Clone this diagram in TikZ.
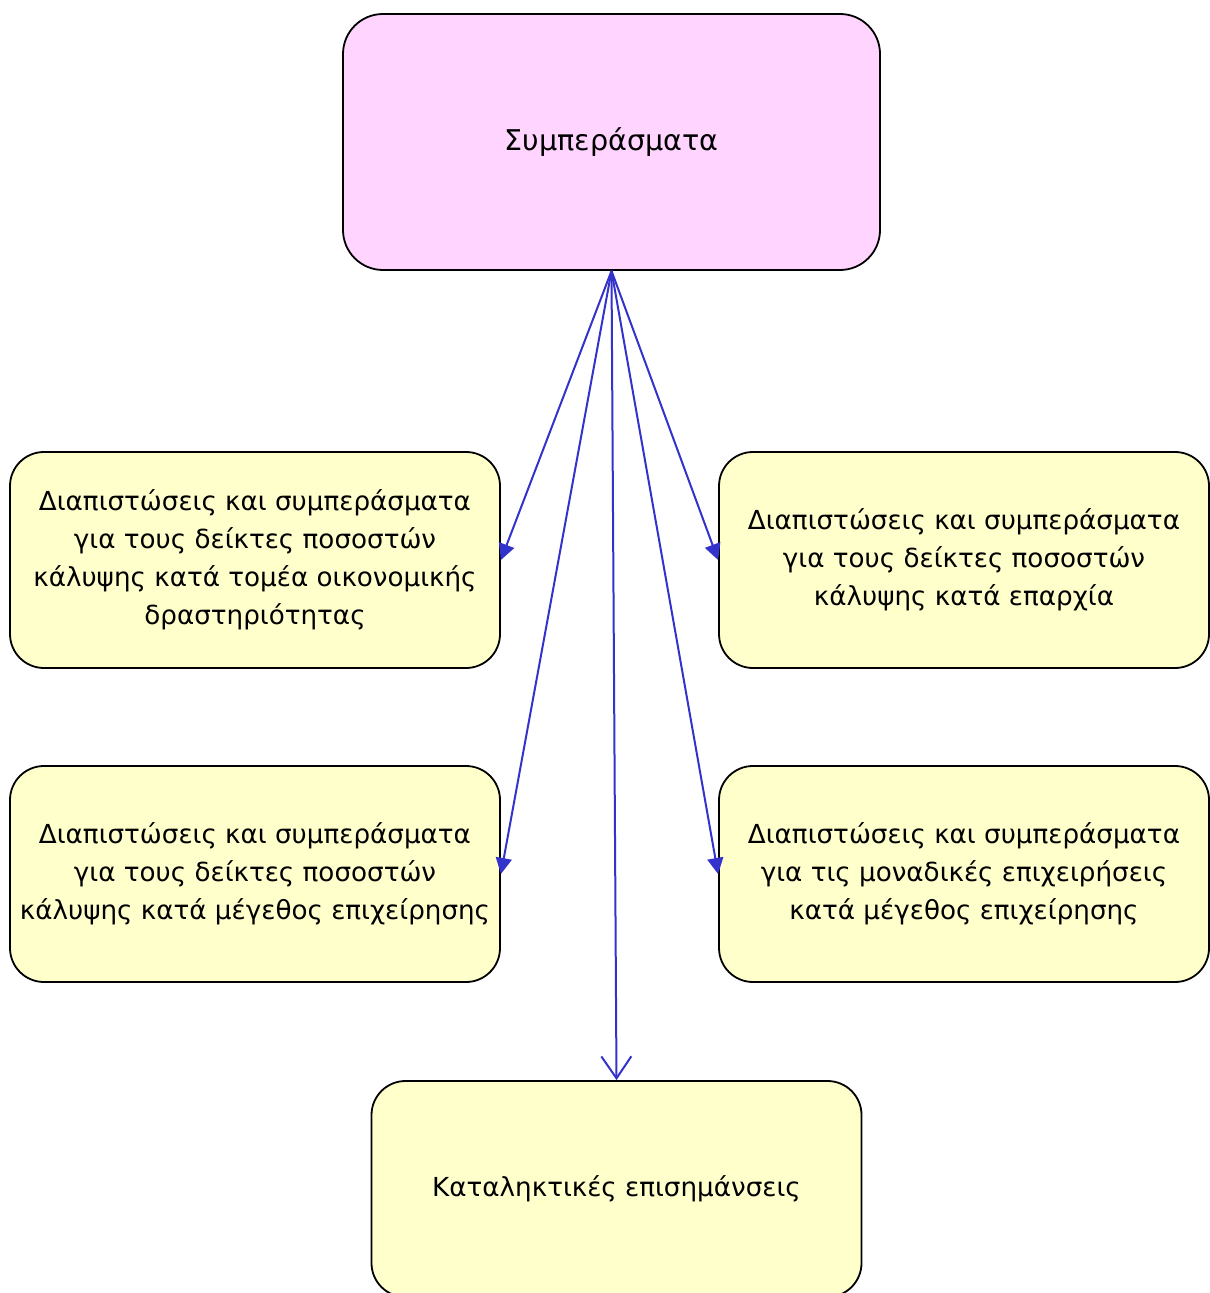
\documentclass[tikz,border=0pt]{standalone}
\usepackage{fontspec}
\setmainfont{DejaVu Sans}
\usetikzlibrary{arrows.meta}
\definecolor{lilac}{HTML}{FFD5FF}
\definecolor{cream}{HTML}{FFFFCC}
\definecolor{wire}{HTML}{3333CC}
\tikzset{box/.style={draw=black,fill=cream,rounded corners=17pt,align=center,
  minimum width=245pt,minimum height=108pt,line width=0.9pt,inner sep=2pt,
  font=\fontsize{13.1}{19}\selectfont},
  topbox/.style={box,fill=lilac,rounded corners=20pt,minimum width=268.5pt,minimum height=128pt,
  font=\fontsize{14.3}{19}\selectfont},
  link/.style={-{Triangle[length=8pt,width=8pt]},draw=wire,line width=1pt},
  lastlink/.style={draw=wire,line width=1pt,-{Straight Barb[length=11pt,width=15pt]}}}

\begin{document}
\begin{tikzpicture}[x=0.5pt,y=-0.5pt]
\useasboundingbox (0,0) rectangle (1209,1293);
\node[topbox] (concl) at (611.5,142) {Συμπεράσματα};
\node[box] (sector) at (255,560) {Διαπιστώσεις και συμπεράσματα\\για τους δείκτες ποσοστών\\κάλυψης κατά τομέα οικονομικής\\δραστηριότητας};
\node[box] (region) at (964,560) {Διαπιστώσεις και συμπεράσματα\\για τους δείκτες ποσοστών\\κάλυψης κατά επαρχία};
\node[box] (size) at (255,874) {Διαπιστώσεις και συμπεράσματα\\για τους δείκτες ποσοστών\\κάλυψης κατά μέγεθος επιχείρησης};
\node[box] (units) at (964,874) {Διαπιστώσεις και συμπεράσματα\\για τις μοναδικές επιχειρήσεις\\κατά μέγεθος επιχείρησης};
\node[box] (final) at (616.5,1189) {Καταληκτικές επισημάνσεις};
\foreach \n/\a in {sector/east,region/west,size/east,units/west}{
  \draw[link] (concl.south) -- (\n.\a);}
\draw[lastlink] (concl.south) -- (final.north);
\end{tikzpicture}
\end{document}
